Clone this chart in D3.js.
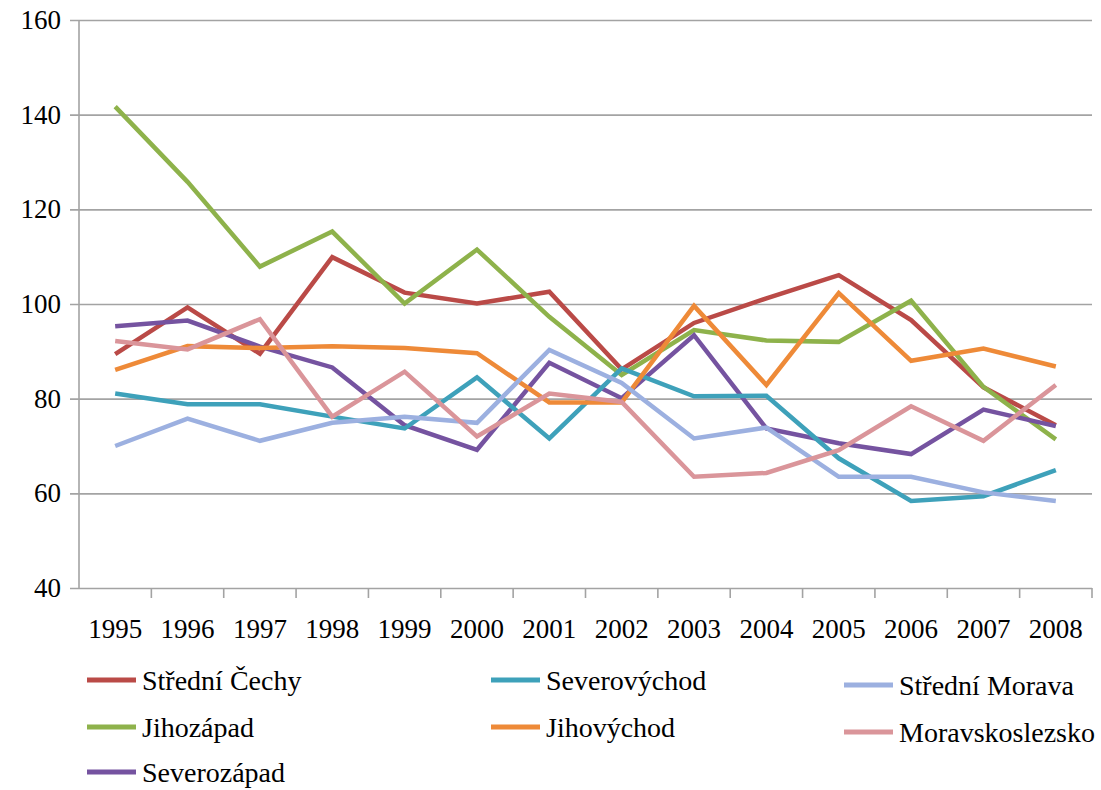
<!DOCTYPE html>
<html>
<head>
<meta charset="utf-8">
<script src="https://cdn.jsdelivr.net/npm/d3@7"></script>
<style>
  body { margin: 0; background: #fff; }
  svg text { font-family: 'Liberation Serif', 'Tinos', 'Times New Roman', 'DejaVu Serif', serif; fill: #000; }
</style>
</head>
<body>
<div id="wrapper"></div>
<script>
'use strict';

//#region DATASET
const years = ['1995', '1996', '1997', '1998', '1999', '2000', '2001',
  '2002', '2003', '2004', '2005', '2006', '2007', '2008'];
const yTicks = [40, 60, 80, 100, 120, 140, 160];

const stredniCechy    = [89.4, 99.3, 89.5, 109.9, 102.4, 100.1, 102.6, 86.2, 96.0, 101.2, 106.1, 96.6, 82.4, 74.4];
const severovychod    = [81.1, 78.8, 78.8, 76.2, 73.7, 84.5, 71.6, 86.4, 80.5, 80.6, 67.4, 58.4, 59.4, 64.9];
const stredniMorava   = [70.0, 75.8, 71.1, 74.9, 76.2, 74.9, 90.3, 83.3, 71.6, 73.9, 63.5, 63.5, 60.2, 58.4];
const jihozapad       = [141.7, 125.8, 107.9, 115.3, 100.1, 111.5, 97.3, 85.0, 94.5, 92.3, 92.0, 100.7, 82.5, 71.4];
const jihovychod      = [86.1, 91.1, 90.7, 91.1, 90.7, 89.6, 79.2, 79.2, 99.6, 82.9, 102.3, 88.0, 90.6, 86.8];
const moravskoslezsko = [92.2, 90.4, 96.8, 76.2, 85.7, 72.0, 81.1, 79.3, 63.5, 64.3, 69.1, 78.4, 71.1, 82.9];
const severozapad     = [95.3, 96.5, 91.0, 86.6, 74.4, 69.2, 87.6, 80.1, 93.4, 73.7, 70.6, 68.3, 77.7, 74.2];

const seriesNames = ['Střední Čechy', 'Severovýchod', 'Střední Morava', 'Jihozápad',
  'Jihovýchod', 'Moravskoslezsko', 'Severozápad'];
const seriesValues = [stredniCechy, severovychod, stredniMorava, jihozapad,
  jihovychod, moravskoslezsko, severozapad];
const seriesColors = ['#BA4A47', '#3EA1BA', '#9CB0E0', '#8EB24B', '#EE8A38', '#DA959A', '#7553A0'];
//#endregion DATASET

//#region CHART DIMENSIONS
const dimensions = {
  width: 1101,
  height: 790,
  margin: { top: 20, right: 9, bottom: 202, left: 79 }
};
dimensions.plotWidth = dimensions.width - dimensions.margin.left - dimensions.margin.right;
dimensions.plotHeight = dimensions.height - dimensions.margin.top - dimensions.margin.bottom;
//#endregion CHART DIMENSIONS

//#region DRAW CANVAS
const wrapper = d3.select('#wrapper').append('svg')
  .attr('width', dimensions.width)
  .attr('height', dimensions.height);

const plot = wrapper.append('g')
  .attr('transform', `translate(${dimensions.margin.left}, ${dimensions.margin.top})`);
//#endregion DRAW CANVAS

//#region CREATE SCALES
const xScale = d3.scaleBand()
  .domain(years)
  .range([0, dimensions.plotWidth])
  .paddingInner(0)
  .paddingOuter(0);

const yScale = d3.scaleLinear()
  .domain([40, 160])
  .range([dimensions.plotHeight, 0]);

const xCenter = d => xScale(d) + xScale.bandwidth() / 2;
//#endregion CREATE SCALES

//#region DRAW PERIPHERALS
const gridColor = '#A3A3A3';
const serif = "'Liberation Serif', 'Tinos', 'Times New Roman', 'DejaVu Serif', serif";

const yAxis = plot.append('g')
  .call(d3.axisLeft(yScale)
    .tickValues(yTicks)
    .tickSize(-dimensions.plotWidth)
    .tickSizeOuter(0)
    .tickPadding(18))
  .attr('font-family', serif);
yAxis.select('.domain').remove();
yAxis.selectAll('.tick line')
  .attr('x1', -9)
  .attr('stroke', gridColor)
  .attr('stroke-width', 1.6);
yAxis.selectAll('.tick text')
  .attr('font-size', 27)
  .attr('fill', '#000');

// vertical axis line
plot.append('line')
  .attr('x1', 0).attr('x2', 0)
  .attr('y1', 0).attr('y2', dimensions.plotHeight)
  .attr('stroke', gridColor)
  .attr('stroke-width', 1.6);

// category boundary ticks under the x axis
const boundaries = years.map(d => xScale(d) + xScale.bandwidth());
plot.append('g').selectAll('line').data(boundaries)
  .enter().append('line')
  .attr('x1', d => d).attr('x2', d => d)
  .attr('y1', dimensions.plotHeight).attr('y2', dimensions.plotHeight + 10)
  .attr('stroke', gridColor)
  .attr('stroke-width', 1.6);

plot.append('g').selectAll('text').data(years)
  .enter().append('text')
  .attr('x', d => xCenter(d))
  .attr('y', dimensions.plotHeight + 50)
  .attr('text-anchor', 'middle')
  .attr('font-family', serif)
  .attr('font-size', 27)
  .text(d => d);
//#endregion DRAW PERIPHERALS

//#region DRAW DATA
const lineGenerator = d3.line()
  .x((d, i) => xCenter(years[i]))
  .y(d => yScale(d));

const drawOrder = [0, 3, 6, 1, 4, 2, 5];
plot.append('g').selectAll('path').data(drawOrder)
  .enter().append('path')
  .attr('d', i => lineGenerator(seriesValues[i]))
  .attr('fill', 'none')
  .attr('stroke', i => seriesColors[i])
  .attr('stroke-width', 4.5)
  .attr('stroke-linejoin', 'miter')
  .attr('stroke-linecap', 'butt');
//#endregion DRAW DATA

//#region LEGEND
const legendCols = [87, 491, 844];
const legendRows = [680, 727, 772];
const legendColShift = [0, 0, 5];

const legendItems = wrapper.append('g').selectAll('g').data(seriesNames)
  .enter().append('g')
  .attr('transform', (d, i) => {
    const col = i % 3;
    const row = Math.floor(i / 3);
    return `translate(${legendCols[col]}, ${legendRows[row] + legendColShift[col]})`;
  });

legendItems.append('line')
  .attr('x1', 0).attr('x2', 49)
  .attr('y1', 0).attr('y2', 0)
  .attr('stroke', (d, i) => seriesColors[i])
  .attr('stroke-width', 5);

legendItems.append('text')
  .attr('x', 55)
  .attr('y', 10)
  .attr('font-family', serif)
  .attr('font-size', 28)
  .text(d => d);
//#endregion LEGEND
</script>
</body>
</html>
